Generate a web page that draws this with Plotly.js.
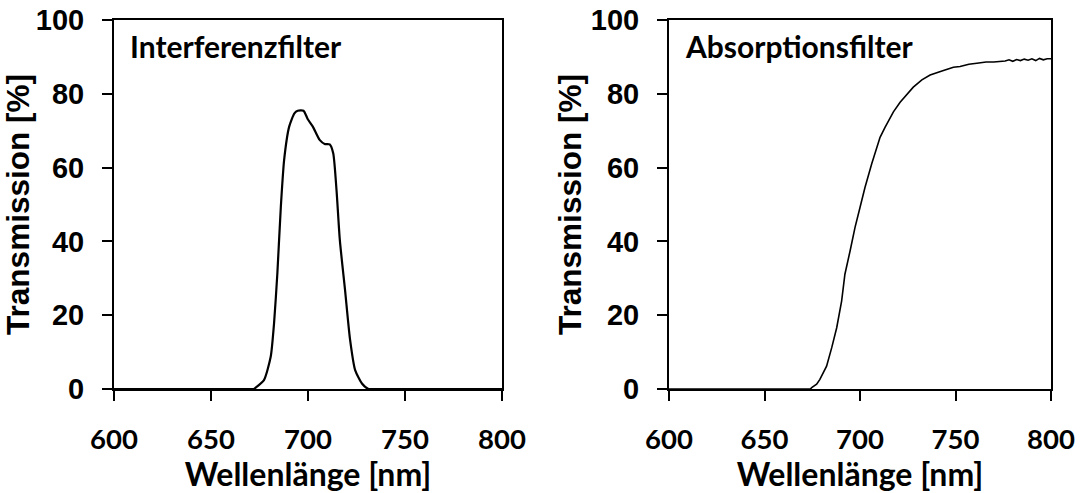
<!DOCTYPE html>
<html><head><meta charset="utf-8">
<script src="https://cdn.plot.ly/plotly-3.0.1.min.js"></script>
<style>body{margin:0;background:#fff}</style>
</head><body>
<div id="chart" style="width:1083px;height:493px"></div>
<script>
// Interferenzfilter
const wlInterf = [600,650,668,672,673,677.3,680.8,682.5,684.2,686,687.7,690.3,693,694.7,697.7,699.9,702.5,706,708.6,711.2,713,714.7,716.4,719.1,721.7,724.3,727.8,731.2,735,760,800];
const trInterf = [0,0,0,0,0.35,2.4,8.8,17.8,31.3,49.4,62.1,71.1,74.7,75.4,75.4,73.1,71.1,67.5,66.4,66.3,63.9,53.9,40.4,26.8,13.3,5.1,1.5,0,0,0,0];
// Absorptionsfilter
const wlAbs = [600,650,674,674.7,677.3,679,682.5,685.2,687.8,690.4,692.1,694.8,697.4,700,702.6,706.1,710.5,713.1,717.5,721,725.3,727.9,732.4,736.7,743.7,748.9,752.4,757,761.2,766,770,773.4,776,778,780,782,784,786,788,790,792,794,796,798,800];
const trAbs = [0,0,0,0.35,1.3,2.6,6.2,11.2,16.6,23.9,31.1,37.4,43.8,49.2,54.6,61,68.2,70.9,75.1,77.7,80.4,81.8,83.8,85.1,86.3,87.2,87.4,88.0,88.3,88.6,88.6,88.7,88.9,89.2,88.8,89.3,89.0,89.4,89.1,89.5,89.0,89.6,89.2,89.5,89.5];
const xTicks = [600,650,700,750,800];
const yTicks = [0,20,40,60,80,100];
const panelLabels = ["Interferenzfilter","Absorptionsfilter"];
const xTitle = "Wellenlänge [nm]";
const yTitle = "Transmission [%]";

const xTitleFont = {family:"Lato, sans-serif", size:32, color:"#000", weight:"bold"};
const yTitleFont = {family:"Liberation Sans, Arial, sans-serif", size:31.5, color:"#000", weight:"bold"};
const labelFont = {family:"Lato, sans-serif", size:30, color:"#000", weight:"bold"};
const xTickFont = {family:"Lato, sans-serif", size:27.5, color:"#000", weight:"bold"};
const yTickFont = {family:"Liberation Sans, Arial, sans-serif", size:29, color:"#000", weight:"bold"};

function xaxis(domain, anchor){
  return {domain:domain, anchor:anchor, range:[600,800], tickvals:xTicks, ticktext:xTicks.map(String),
    ticks:"outside", ticklen:10, tickwidth:2, tickcolor:"#000", showline:true, linecolor:"#000", linewidth:2,
    mirror:true, showgrid:false, zeroline:false, tickfont:xTickFont, ticklabelstandoff:15,
    title:{text:xTitle, font:xTitleFont, standoff:4}};
}
function yaxis(anchor){
  return {domain:[0,1], anchor:anchor, range:[0,100], tickvals:yTicks, ticktext:yTicks.map(String),
    ticks:"outside", ticklen:10, tickwidth:2, tickcolor:"#000", showline:true, linecolor:"#000", linewidth:2,
    mirror:true, showgrid:false, zeroline:false, tickfont:yTickFont, ticklabelstandoff:12,
    title:{text:yTitle, font:yTitleFont, standoff:0}};
}
const traces = [
  {x:wlInterf, y:trInterf, type:"scatter", mode:"lines", line:{color:"#000", width:2.2, shape:"spline", smoothing:0.6}, xaxis:"x", yaxis:"y", hoverinfo:"skip"},
  {x:wlAbs, y:trAbs, type:"scatter", mode:"lines", line:{color:"#000", width:1.6}, xaxis:"x2", yaxis:"y2", hoverinfo:"skip"}
];
const layout = {
  width:1083, height:493, showlegend:false,
  paper_bgcolor:"#fff", plot_bgcolor:"#fff",
  margin:{l:0, r:0, t:20, b:104, autoexpand:false},
  xaxis: xaxis([114/1083, 502/1083], "y"),
  yaxis: yaxis("x"),
  xaxis2: xaxis([669/1083, 1051/1083], "y2"),
  yaxis2: yaxis("x2"),
  annotations:[
    {text:panelLabels[0], xref:"x domain", yref:"y domain", x:0.035, y:0.93, xanchor:"left", yanchor:"middle", showarrow:false, font:labelFont},
    {text:panelLabels[1], xref:"x2 domain", yref:"y2 domain", x:0.037, y:0.93, xanchor:"left", yanchor:"middle", showarrow:false, font:labelFont}
  ]
};
Plotly.newPlot("chart", traces, layout, {staticPlot:true, displayModeBar:false});
</script>
</body></html>
